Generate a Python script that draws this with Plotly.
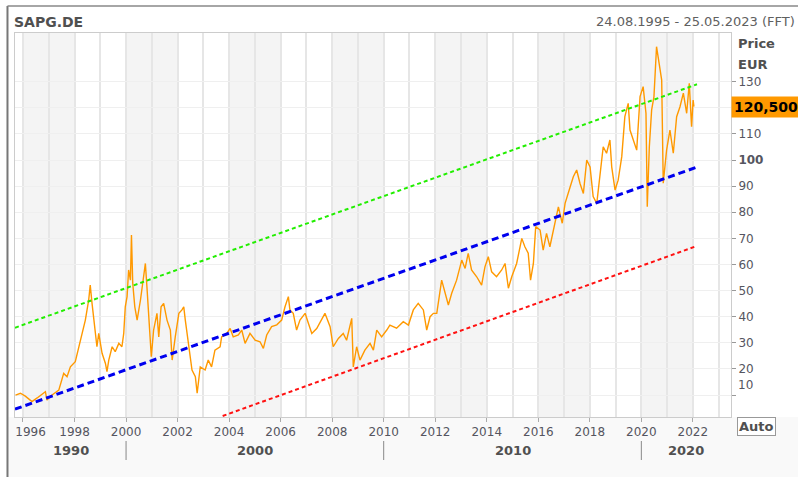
import plotly.graph_objects as go

# ---------------- data ----------------
years = [
    1995.71, 1995.90, 1996.09, 1996.35, 1996.55, 1996.87, 1996.93, 1997.13, 1997.39, 1997.58,
    1997.71, 1997.84, 1998.03, 1998.16, 1998.29, 1998.42, 1998.55, 1998.61, 1998.68, 1998.75,
    1998.87, 1998.94, 1999.07, 1999.20, 1999.26, 1999.33, 1999.46, 1999.58, 1999.72, 1999.84,
    1999.91, 1999.97, 2000.04, 2000.10, 2000.17, 2000.21, 2000.26, 2000.34, 2000.43, 2000.56,
    2000.69, 2000.75, 2000.81, 2000.88, 2000.98, 2001.07, 2001.20, 2001.27, 2001.36, 2001.46,
    2001.59, 2001.72, 2001.79, 2001.91, 2002.05, 2002.17, 2002.24, 2002.30, 2002.43, 2002.56,
    2002.69, 2002.76, 2002.88, 2003.07, 2003.19, 2003.32, 2003.45, 2003.65, 2003.71, 2003.91,
    2004.04, 2004.16, 2004.36, 2004.49, 2004.62, 2004.81, 2005.01, 2005.20, 2005.33, 2005.46,
    2005.65, 2005.85, 2006.04, 2006.17, 2006.30, 2006.36, 2006.49, 2006.62, 2006.75, 2006.95,
    2007.08, 2007.21, 2007.40, 2007.59, 2007.72, 2007.92, 2008.04, 2008.24, 2008.43, 2008.56,
    2008.76, 2008.82, 2008.95, 2009.08, 2009.27, 2009.47, 2009.60, 2009.73, 2009.92, 2010.12,
    2010.24, 2010.50, 2010.76, 2010.96, 2011.15, 2011.34, 2011.54, 2011.67, 2011.80, 2011.93,
    2012.06, 2012.25, 2012.38, 2012.51, 2012.64, 2012.83, 2013.03, 2013.16, 2013.28, 2013.41,
    2013.61, 2013.80, 2013.93, 2014.06, 2014.19, 2014.38, 2014.58, 2014.71, 2014.84, 2014.97,
    2015.16, 2015.36, 2015.48, 2015.61, 2015.70, 2015.81, 2015.90, 2016.07, 2016.19, 2016.32,
    2016.45, 2016.56, 2016.65, 2016.78, 2016.93, 2017.04, 2017.23, 2017.36, 2017.49, 2017.62,
    2017.75, 2017.88, 2018.01, 2018.13, 2018.27, 2018.39, 2018.52, 2018.65, 2018.78, 2018.85,
    2018.98, 2019.10, 2019.24, 2019.36, 2019.49, 2019.56, 2019.69, 2019.82, 2019.95, 2020.07,
    2020.18, 2020.23, 2020.31, 2020.40, 2020.49, 2020.59, 2020.69, 2020.79, 2020.85, 2020.98,
    2021.11, 2021.24, 2021.37, 2021.50, 2021.63, 2021.76, 2021.86, 2021.95, 2022.01, 2022.04,
]
prices = [
    10.0, 10.7, 9.6, 7.5, 8.9, 11.3, 8.1, 10.0, 11.9, 18.3,
    17.0, 20.8, 22.8, 28.5, 33.6, 38.7, 46.4, 52.1, 45.1, 38.7,
    28.5, 33.6, 26.0, 22.1, 19.0, 23.4, 28.5, 26.6, 29.8, 28.5,
    33.6, 43.8, 47.7, 57.9, 54.0, 71.3, 52.8, 43.8, 38.7, 46.4,
    55.3, 60.4, 51.5, 41.3, 24.7, 34.9, 41.3, 32.3, 43.8, 45.1,
    38.7, 34.9, 23.4, 32.3, 41.3, 42.6, 43.8, 38.7, 28.5, 19.6,
    17.0, 10.7, 20.8, 19.6, 23.4, 20.8, 27.2, 28.5, 32.3, 33.6,
    35.5, 32.3, 33.0, 34.9, 29.8, 33.6, 31.0, 30.4, 27.9, 33.0,
    36.2, 36.9, 38.7, 43.8, 47.7, 42.6, 41.3, 34.9, 38.7, 41.3,
    37.4, 33.6, 35.5, 38.7, 41.3, 36.2, 28.5, 31.7, 33.6, 31.0,
    39.4, 20.8, 28.5, 23.4, 27.2, 29.8, 27.2, 34.9, 32.3, 34.9,
    36.8, 35.6, 38.1, 36.8, 42.6, 45.1, 42.6, 34.9, 40.0, 41.3,
    41.3, 54.0, 49.0, 44.5, 49.0, 54.0, 61.7, 58.5, 64.3, 57.9,
    55.3, 52.1, 59.1, 63.0, 57.2, 55.3, 57.9, 60.4, 50.9, 55.3,
    60.4, 70.0, 66.8, 64.3, 54.0, 60.4, 74.5, 73.2, 65.5, 71.9,
    66.8, 71.9, 77.0, 82.1, 75.8, 83.4, 89.5, 93.6, 96.2, 91.0,
    87.2, 100.0, 97.4, 86.0, 83.4, 93.6, 105.1, 102.6, 107.7, 97.4,
    88.5, 92.3, 101.3, 116.6, 121.7, 111.5, 107.7, 103.8, 124.3, 128.1,
    117.9, 82.1, 105.1, 119.2, 124.3, 143.4, 137.0, 130.6, 91.1, 103.8,
    111.5, 102.6, 116.6, 120.4, 125.6, 117.9, 129.4, 112.8, 123.0, 120.5,
]

trend_x = [1995.69, 2022.16]
green_y = [35.8, 129.0]
blue_y = [4.6, 97.3]
red_x = [2003.75, 2022.16]
red_y = [2.0, 67.1]

last_price = 120.5
last_price_label = "120,500"
y_ticks = [10, 20, 30, 40, 50, 60, 70, 80, 90, 100, 110, 120, 130]
x_ticks = [1996, 1998, 2000, 2002, 2004, 2006, 2008, 2010, 2012, 2014, 2016, 2018, 2020, 2022]
decade_labels = ["1990", "2000", "2010", "2020"]
decade_bounds = [2000, 2010, 2020]
shaded_starts = [1996, 2000, 2004, 2008, 2012, 2016, 2020]

x_range = [1995.69, 2023.48]
y_range = [1.6, 148.65]

FONT = "DejaVu Sans"
TXT = "#555560"

# ---------------- figure ----------------
fig = go.Figure()

fig.add_trace(go.Scatter(x=years, y=prices, mode="lines",
                         line=dict(color="#ff9900", width=1.4), hoverinfo="skip"))
fig.add_trace(go.Scatter(x=trend_x, y=green_y, mode="lines",
                         line=dict(color="#22ee00", width=2, dash="4px,3px")))
fig.add_trace(go.Scatter(x=trend_x, y=blue_y, mode="lines",
                         line=dict(color="#0000ee", width=3, dash="7px,4px")))
fig.add_trace(go.Scatter(x=red_x, y=red_y, mode="lines",
                         line=dict(color="#ff1111", width=2, dash="4px,3px")))

shapes = []
# alternating shaded 2-year bands
for s in shaded_starts:
    shapes.append(dict(type="rect", xref="x", yref="paper", x0=s, x1=s + 2, y0=0, y1=1,
                       fillcolor="#f4f4f4", line=dict(width=0), layer="below"))
# light background under the plot
shapes.append(dict(type="rect", xref="paper", yref="paper", x0=-0.0105, x1=1.2, y0=0, y1=-0.2,
                   fillcolor="#f9f9f9", line=dict(width=0), layer="below"))
# outer frame
shapes.append(dict(type="line", xref="paper", yref="paper", x0=-0.0105, x1=-0.0105, y0=-0.2, y1=1.0705,
                   line=dict(color="#777777", width=2)))
shapes.append(dict(type="line", xref="paper", yref="paper", x0=-0.0105, x1=1.2, y0=1.0705, y1=1.0705,
                   line=dict(color="#888888", width=1.5)))
# decade separators
for b in decade_bounds:
    shapes.append(dict(type="line", xref="x", yref="paper", x0=b, x1=b, y0=-0.0625, y1=-0.112,
                       line=dict(color="#888888", width=1)))

annotations = []
seg_edges = [x_range[0]] + decade_bounds + [x_range[1]]
for i, lab in enumerate(decade_labels):
    annotations.append(dict(x=(seg_edges[i] + seg_edges[i + 1]) / 2, y=-0.088, xref="x", yref="paper",
                            text="<b>%s</b>" % lab, showarrow=False, xanchor="center", yanchor="middle",
                            font=dict(family=FONT, size=13, color="#505050")))
annotations += [
    dict(x=-0.004, y=1.0286, xref="paper", yref="paper", text="<b>SAPG.DE</b>", showarrow=False,
         xanchor="left", yanchor="middle", font=dict(family=FONT, size=14, color="#505050")),
    dict(x=1.0922, y=1.0312, xref="paper", yref="paper", text="24.08.1995 - 25.05.2023 (FFT)",
         showarrow=False, xanchor="right", yanchor="middle", font=dict(family=FONT, size=13, color="#606060")),
    dict(x=1.0075, y=0.9714, xref="paper", yref="paper", text="<b>Price</b>", showarrow=False,
         xanchor="left", yanchor="middle", font=dict(family=FONT, size=13, color="#505050")),
    dict(x=1.0075, y=0.9167, xref="paper", yref="paper", text="<b>EUR</b>", showarrow=False,
         xanchor="left", yanchor="middle", font=dict(family=FONT, size=13, color="#505050")),
    dict(x=1.0, y=last_price, xref="paper", yref="y", text="<b>%s</b>" % last_price_label,
         showarrow=False, xanchor="left", yanchor="middle", bgcolor="#ff9900", borderpad=2,
         font=dict(family=FONT, size=14, color="#000000")),
    dict(x=1.0075, y=y_ticks[0] + 3.9, xref="paper", yref="y", text=str(y_ticks[0]), showarrow=False,
         xanchor="left", yanchor="middle", font=dict(family=FONT, size=12, color=TXT)),
    dict(x=1.0356, y=-0.026, xref="paper", yref="paper", text="<b>Auto</b>", showarrow=False,
         xanchor="center", yanchor="middle", bgcolor="#ffffff", bordercolor="#999999", borderwidth=1,
         borderpad=1, font=dict(family=FONT, size=13, color="#505050")),
]

yticktext = []
for v in y_ticks:
    if v == 100:
        yticktext.append("<b>100</b>")
    elif v in (10, 120):
        yticktext.append("")
    else:
        yticktext.append(str(v))
xticktext = [("\u2007\u2007" + str(v)) if i == 0 else str(v) for i, v in enumerate(x_ticks)]

fig.update_layout(
    width=798, height=477,
    margin=dict(l=15, r=67, t=33, b=60),
    paper_bgcolor="#ffffff", plot_bgcolor="#ffffff",
    showlegend=False,
    shapes=shapes, annotations=annotations,
    font=dict(family=FONT, size=12, color=TXT),
    xaxis=dict(range=x_range, tickmode="array", tickvals=x_ticks, ticktext=xticktext,
               ticks="outside", ticklen=4, tickcolor="#aaaaaa",
               showgrid=True, gridcolor="#e6e6e6", gridwidth=2,
               minor=dict(dtick=1, tick0=1996, showgrid=True, gridcolor="#e6e6e6", gridwidth=2, ticks=""),
               showline=True, linecolor="#cccccc", linewidth=1, mirror=True,
               zeroline=False, automargin=False,
               tickfont=dict(family=FONT, size=12, color=TXT)),
    yaxis=dict(range=y_range, side="right", tickmode="array", tickvals=y_ticks, ticktext=yticktext,
               ticks="outside", ticklen=4, tickcolor="#999999",
               showgrid=True, gridcolor="#efefef", gridwidth=1,
               showline=True, linecolor="#cccccc", linewidth=1, mirror=True,
               zeroline=False, automargin=False,
               tickfont=dict(family=FONT, size=12, color=TXT)),
)

fig.write_html("out.html", config={"displayModeBar": False},
               post_script="document.body.style.margin='0';document.body.style.overflow='hidden';")
